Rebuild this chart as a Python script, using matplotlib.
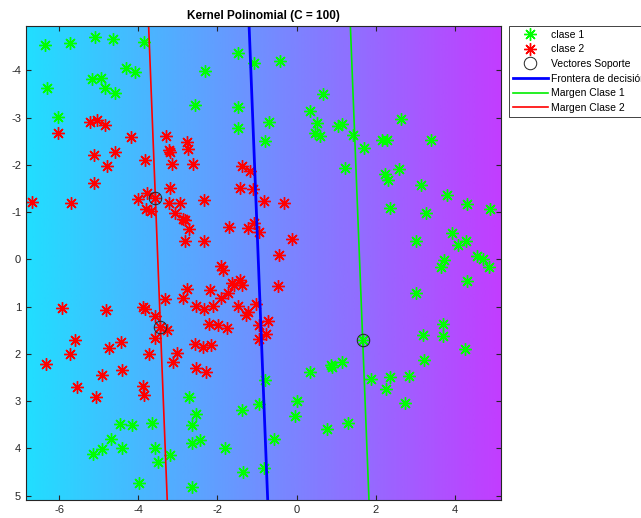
#Kernel polinomial - SVM (C = 100)
import numpy as np
import matplotlib.pyplot as plt

plt.rcParams['font.family'] = ['Liberation Sans', 'DejaVu Sans']
plt.rcParams['axes.unicode_minus'] = False

#DATOS - clase 1 (verde)
x_clase1 = [-6.35, -5.74, -5.10, -4.63, -3.85, -6.31, -5.17, -4.94, -4.85, -4.60,
            -4.32, -4.09, -6.03, -1.49, -1.08, -0.41, -2.32, -2.57, -1.48, -1.49,
            -0.69, -0.79, 0.67, 0.34, 0.52, 0.46, 0.59, 1.05, 1.14, 1.43,
            1.70, 2.17, 2.29, 2.65, 3.39, 1.22, 2.23, 2.30, 2.58, 3.15,
            3.81, 4.31, 4.90, 2.37, 3.27, 3.02, 3.94, 4.08, 4.28, 4.55,
            4.72, 3.72, 3.66, 4.87, 4.31, 3.03, 3.71, 3.20, 3.71, 4.26,
            1.67, 3.22, 1.16, 0.86, 0.90, 0.34, 1.89, 2.37, 2.83, 2.27,
            2.75, 1.30, 0.76, -0.80, -2.71, -0.94, -1.37, -2.55, -2.65, 0.02,
            -0.04, -0.57, -2.65, -2.44, -1.80, -1.35, -0.83, -2.64, -4.47, -4.16,
            -3.66, -4.69, -4.91, -5.15, -4.42, -3.57, -3.51, -3.19, -3.98]
y_clase1 = [-4.54, -4.59, -4.70, -4.66, -4.61, -3.63, -3.82, -3.84, -3.63, -3.53,
            -4.05, -3.97, -3.01, -4.36, -4.16, -4.19, -3.98, -3.26, -3.22, -2.79,
            -2.91, -2.50, -3.51, -3.14, -2.88, -2.68, -2.61, -2.82, -2.86, -2.63,
            -2.35, -2.53, -2.53, -2.97, -2.53, -1.94, -1.81, -1.68, -1.92, -1.57,
            -1.36, -1.17, -1.06, -1.09, -0.98, -0.39, -0.55, -0.31, -0.39, -0.08,
            0.00, 0.02, 0.17, 0.16, 0.45, 0.70, 1.37, 1.60, 1.61, 1.90,
            1.71, 2.13, 2.16, 2.24, 2.28, 2.38, 2.53, 2.48, 2.46, 2.74,
            3.03, 3.46, 3.58, 2.55, 2.92, 3.06, 3.19, 3.27, 3.50, 2.99,
            3.31, 3.79, 3.89, 3.82, 3.99, 4.49, 4.41, 4.82, 3.48, 3.50,
            3.46, 3.79, 4.01, 4.12, 3.98, 3.99, 4.29, 4.13, 4.72]

#DATOS - clase 2 (rojo)
x_clase2 = [-6.04, -5.23, -5.05, -4.85, -4.19, -3.31, -5.13, -4.58, -4.79, -3.82,
            -3.22, -3.19, -3.15, -2.78, -2.74, -2.63, -5.11, -6.69, -5.70, -4.01,
            -3.79, -3.57, -3.81, -3.68, -3.19, -3.22, -2.95, -3.07, -2.88, -2.82,
            -2.71, -2.82, -2.33, -2.33, -1.72, -1.37, -1.18, -1.42, -1.11, -0.82,
            -0.31, -1.22, -1.08, -0.96, -0.11, -0.44, -5.94, -4.81, -3.89, -3.84,
            -3.58, -3.44, -3.28, -3.58, -3.32, -2.88, -5.59, -5.72, -6.34, -4.74,
            -4.43, -3.72, -3.03, -3.13, -4.93, -4.42, -5.54, -5.08, -3.89, -3.85,
            -1.90, -1.85, -0.46, -1.62, -1.42, -1.39, -1.59, -2.76, -2.19, -1.73,
            -1.90, -2.55, -2.34, -2.12, -1.48, -1.03, -1.22, -1.27, -2.21, -1.99,
            -1.77, -0.94, -0.71, -0.78, -0.96, -2.58, -2.36, -2.16, -2.55, -2.29]
y_clase2 = [-2.67, -2.91, -2.96, -2.84, -2.60, -2.61, -2.20, -2.28, -1.98, -2.10,
            -2.32, -2.28, -2.02, -2.48, -2.34, -2.01, -1.61, -1.22, -1.19, -1.27,
            -1.40, -1.30, -1.06, -1.03, -1.52, -1.20, -1.19, -0.98, -0.85, -0.84,
            -0.64, -0.40, -0.40, -1.26, -0.69, -1.98, -1.87, -1.52, -1.50, -1.23,
            -1.20, -0.67, -0.77, -0.59, -0.43, -0.09, 1.03, 1.07, 1.00, 1.05,
            1.19, 1.42, 1.49, 1.66, 0.84, 0.82, 1.70, 2.01, 2.21, 1.88,
            1.74, 2.00, 1.98, 2.17, 2.44, 2.34, 2.69, 2.91, 2.68, 2.86,
            0.14, 0.23, 0.57, 0.50, 0.43, 0.53, 0.54, 0.63, 0.64, 0.72,
            0.81, 0.98, 1.05, 0.98, 0.98, 0.95, 1.12, 1.17, 1.37, 1.39,
            1.45, 1.38, 1.31, 1.57, 1.68, 1.79, 1.86, 1.81, 2.30, 2.39]

#Vectores soporte
x_sv = [-3.57, -3.44, 1.67]
y_sv = [-1.30, 1.42, 1.71]

#Frontera y margenes (extremos de cada recta)
y_recta = [-4.94, 5.09]
x_frontera = [-1.20, -0.73]
x_margen1 = [1.36, 1.83]
x_margen2 = [-3.74, -3.27]

#Limites del grafico
xlim = [-6.84, 5.16]
ylim = [-4.94, 5.09]
fondo_t = [0.13, 0.76]  #tramo del mapa 'cool' usado en el fondo

titulo = "Kernel Polinomial (C = 100)"

fig = plt.figure(figsize=(6.41, 5.18), dpi=100)
ax = fig.add_axes([26/641, 18/518, 474.7/641, 474/518])

#Fondo degradado
t = np.linspace(fondo_t[0], fondo_t[1], 300)
ax.imshow(t[np.newaxis, :], cmap="cool", vmin=0, vmax=1, aspect="auto",
          extent=(xlim[0], xlim[1], ylim[1], ylim[0]), interpolation="bilinear")

ast = (8, 2, 0)
ax.plot(x_clase1, y_clase1, linestyle="none", marker=ast, markersize=9,
        markeredgewidth=1, color="#00ff00", label="clase 1")
ax.plot(x_clase2, y_clase2, linestyle="none", marker=ast, markersize=9,
        markeredgewidth=1, color="#ff0000", label="clase 2")
ax.plot(x_sv, y_sv, linestyle="none", marker="o", markersize=9,
        markerfacecolor="none", markeredgecolor="#222222", markeredgewidth=0.7,
        label="Vectores Soporte", zorder=5)
ax.plot(x_frontera, y_recta, color="#0000ff", linewidth=2, label="Frontera de decisión")
ax.plot(x_margen1, y_recta, color="#00ee00", linewidth=1.2, label="Margen Clase 1")
ax.plot(x_margen2, y_recta, color="#ff0000", linewidth=1.2, label="Margen Clase 2")

ax.set_xlim(xlim)
ax.set_ylim(ylim[1], ylim[0])
ax.set_xticks([-6, -4, -2, 0, 2, 4])
ax.set_yticks([-4, -3, -2, -1, 0, 1, 2, 3, 4, 5])
ax.tick_params(direction="in", top=True, right=True, length=3.5, width=0.8,
               colors="#262626", labelsize=8)
for s in ax.spines.values():
    s.set_color("#262626")
    s.set_linewidth(0.8)

ax.set_title(titulo, fontsize=8.5, fontweight="bold", pad=5)

leg = ax.legend(loc="upper left", bbox_to_anchor=(509/641, 1 - 26/518),
                bbox_transform=fig.transFigure, fontsize=7.5, fancybox=False,
                framealpha=1, edgecolor="#222222", borderaxespad=0, borderpad=0.35,
                handlelength=3.4, handletextpad=0.25, labelspacing=0.45)
leg.get_frame().set_linewidth(0.6)

plt.savefig("out.png", dpi=100)
